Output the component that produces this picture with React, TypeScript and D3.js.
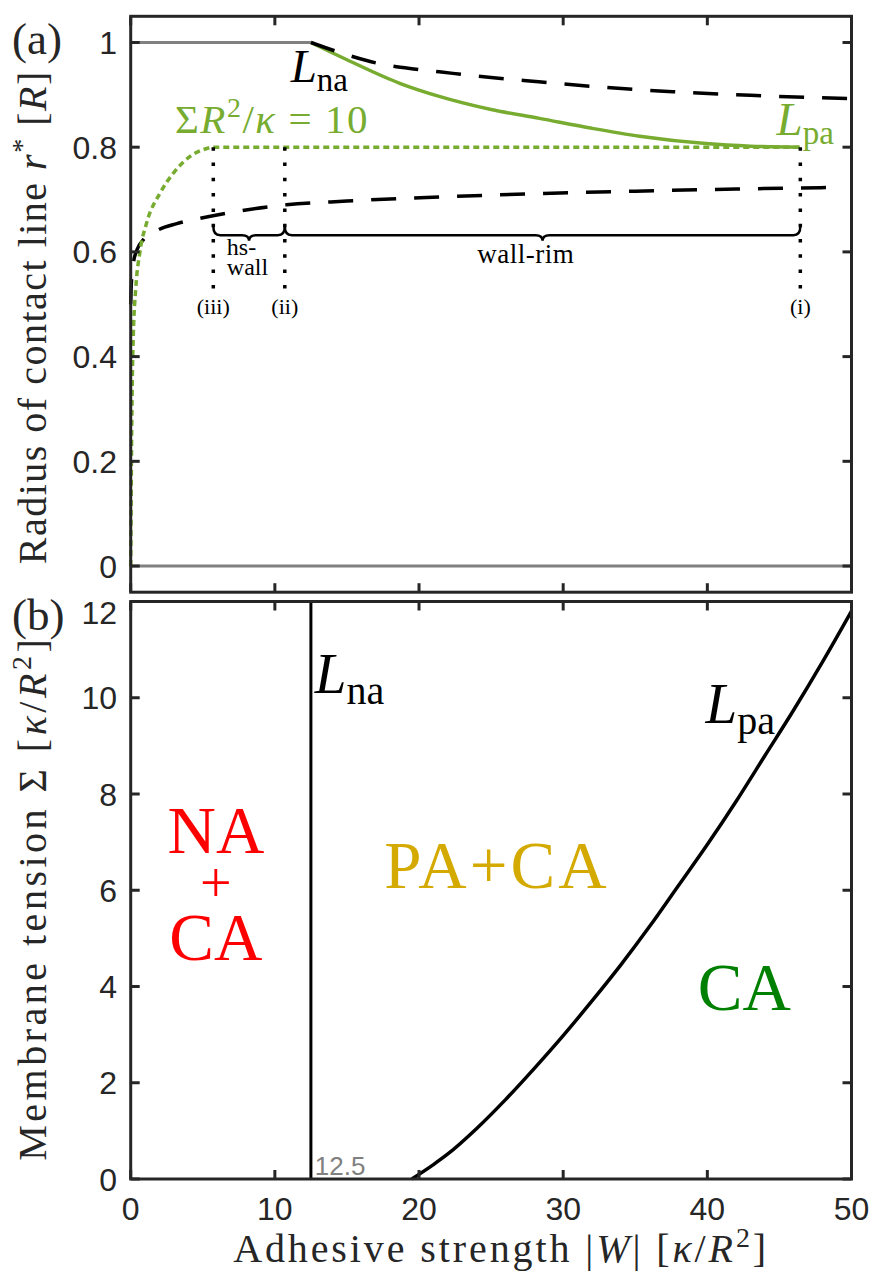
import React from "react";
import * as d3 from "d3";

// ---------- axis ticks ----------
const wTicks = [0, 10, 20, 30, 40, 50];
const wTickLabels = ["0", "10", "20", "30", "40", "50"];
const rTicks = [0, 0.2, 0.4, 0.6, 0.8, 1];
const rTickLabels = ["0", "0.2", "0.4", "0.6", "0.8", "1"];
const sTicks = [0, 2, 4, 6, 8, 10, 12];
const sTickLabels = ["0", "2", "4", "6", "8", "10", "12"];

// ---------- panel (a): radius of contact line ----------
const naBranchW = [0, 12.5];
const naBranchR = [1, 1];
const zeroBranchW = [0, 50];
const zeroBranchR = [0, 0];
const paBranchW = [12.5, 15, 18.66, 21.4, 25, 28.35, 32, 35.3, 39.9, 43, 46.4];
const paBranchR = [1.0, 0.967, 0.922, 0.897, 0.872, 0.855, 0.836, 0.821, 0.807, 0.802, 0.8];
const sigma10W = [0, 0.03, 0.07, 0.12, 0.18, 0.35, 0.64, 1.1, 2.03, 2.95, 4.1, 5.0, 5.73, 46.4];
const sigma10R = [0, 0.12, 0.26, 0.37, 0.44, 0.53, 0.6, 0.655, 0.712, 0.75, 0.782, 0.795, 0.8, 0.8];
const upperW = [12.5, 14.15, 15.3, 17, 19.8, 21.4, 25, 28.3, 33, 37.6, 43, 50];
const upperR = [1.0, 0.984, 0.974, 0.961, 0.949, 0.944, 0.933, 0.925, 0.914, 0.906, 0.899, 0.893];
const lowerW = [0, 0.03, 0.08, 0.18, 0.45, 0.87, 1.9, 3.2, 4.8, 7.5, 10.8, 15, 21.4, 28, 35, 42, 48.7];
const lowerR = [0.5, 0.53, 0.555, 0.578, 0.605, 0.623, 0.642, 0.654, 0.664, 0.678, 0.69, 0.697, 0.705, 0.711, 0.716, 0.72, 0.723];
const transitionW = [5.73, 10.69, 46.45];
const transitionLabels = ["(iii)", "(ii)", "(i)"];
const transitionTopR = 0.8;
const transitionBottomR = 0.53;
const braceR = 0.632;

// ---------- panel (b): phase diagram ----------
const lnaW = [12.5, 12.5];
const lnaS = [0, 12];
const lpaW = [19.5, 21, 22, 24, 26, 28, 30, 32, 34, 36, 38, 40, 42, 44, 46, 48, 50];
const lpaS = [0, 0.3, 0.52, 1.05, 1.65, 2.3, 2.98, 3.7, 4.45, 5.25, 6.1, 6.95, 7.85, 8.8, 9.75, 10.75, 11.8];

const serif = "Liberation Serif, DejaVu Serif, Noto Serif, serif";
const sans = "Liberation Sans, Arial, Helvetica, sans-serif";
const axisColor = "#262626";
const green = "#77AC30";
const gray = "#808080";

function brace(x1: number, x2: number, y: number) {
  const p = d3.path();
  const r = 7;
  const m = (x1 + x2) / 2;
  p.moveTo(x1, y - 9);
  p.quadraticCurveTo(x1, y, x1 + r, y);
  p.lineTo(m - r, y);
  p.quadraticCurveTo(m, y, m, y + 5.5);
  p.quadraticCurveTo(m, y, m + r, y);
  p.lineTo(x2 - r, y);
  p.quadraticCurveTo(x2, y, x2, y - 9);
  return p.toString();
}

export default function App() {
  const x = d3.scaleLinear().domain([0, 50]).range([130.7, 851.5]);
  const yA = d3.scaleLinear().domain([-0.05, 1.05]).range([592.2, 16.3]);
  const yB = d3.scaleLinear().domain([0, 12]).range([1179, 601.5]);

  const pathA = (xs: number[], ys: number[], curve: any = d3.curveMonotoneX) =>
    d3
      .line<number>()
      .x((i) => x(xs[i]))
      .y((i) => yA(ys[i]))
      .curve(curve)(xs.map((_, i) => i)) as string;
  const pathB = (xs: number[], ys: number[], curve: any = d3.curveMonotoneX) =>
    d3
      .line<number>()
      .x((i) => x(xs[i]))
      .y((i) => yB(ys[i]))
      .curve(curve)(xs.map((_, i) => i)) as string;

  const tick = 9;
  const [x0, x1] = x.range();
  const aTop = yA(1.05), aBot = yA(-0.05);
  const bTop = yB(12), bBot = yB(0);

  const frame = (top: number, bot: number, yTickPos: number[], key: string) => (
    <g key={key} stroke={axisColor} strokeWidth={3} fill="none">
      {wTicks.map((t) => (
        <g key={"xt" + t}>
          <line x1={x(t)} x2={x(t)} y1={bot} y2={bot - tick} />
          <line x1={x(t)} x2={x(t)} y1={top} y2={top + tick} />
        </g>
      ))}
      {yTickPos.map((p, i) => (
        <g key={"yt" + i}>
          <line x1={x0} x2={x0 + tick} y1={p} y2={p} />
          <line x1={x1} x2={x1 - tick} y1={p} y2={p} />
        </g>
      ))}
      <rect x={x0} y={top} width={x1 - x0} height={bot - top} strokeLinejoin="miter" />
    </g>
  );

  return (
    <svg
      width={874}
      height={1272}
      style={{ position: "absolute", left: 0, top: 0, background: "#fff" }}
    >
      <rect x={0} y={0} width={874} height={1272} fill="#fff" />

      {/* ---------- Panel (a) ---------- */}
      <path d={pathA(naBranchW, naBranchR, d3.curveLinear)} stroke={gray} strokeWidth={3} fill="none" />
      <path d={pathA(zeroBranchW, zeroBranchR, d3.curveLinear)} stroke={gray} strokeWidth={3} fill="none" />
      <path d={pathA(paBranchW, paBranchR)} stroke={green} strokeWidth={3.5} fill="none" />
      <path d={pathA(upperW, upperR)} stroke="#000" strokeWidth={3.5} fill="none" strokeDasharray="25 18" />
      <path d={pathA(lowerW, lowerR)} stroke="#000" strokeWidth={3.5} fill="none" strokeDasharray="25 18" />
      <path d={pathA(sigma10W, sigma10R)} stroke={green} strokeWidth={3.5} fill="none" strokeDasharray="6 4" />
      {transitionW.map((w, i) => (
        <g key={"tr" + i}>
          <line
            x1={x(w)}
            x2={x(w)}
            y1={yA(transitionTopR)}
            y2={yA(transitionBottomR)}
            stroke="#000"
            strokeWidth={3.5}
            strokeDasharray="3.5 11.8"
          />
          <text
            x={x(w)}
            y={yA(0.481)}
            textAnchor="middle"
            fontFamily={serif}
            fontSize={22}
            fill="#000"
          >
            {transitionLabels[i]}
          </text>
        </g>
      ))}
      <path d={brace(x(transitionW[0]), x(transitionW[1]), yA(braceR))} stroke="#000" strokeWidth={2.5} fill="none" />
      <path d={brace(x(transitionW[1]), x(transitionW[2]), yA(braceR))} stroke="#000" strokeWidth={2.5} fill="none" />
      <text x={x(6.67)} y={yA(0.594)} fontFamily={serif} fontSize={24} fill="#000">hs-</text>
      <text x={x(6.67)} y={yA(0.556)} fontFamily={serif} fontSize={24} fill="#000">wall</text>
      <text x={x(27.4)} y={yA(0.579)} textAnchor="middle" fontFamily={serif} fontSize={27} letterSpacing={0.5} fill="#000">wall-rim</text>

      <text x={x(11.1)} y={yA(0.925)} fontFamily={serif} fontSize={47} fill="#000">
        <tspan fontStyle="italic">L</tspan>
        <tspan fontSize={33} dy={9}>na</tspan>
      </text>
      <text x={x(44.8)} y={yA(0.823)} fontFamily={serif} fontSize={47} fill={green}>
        <tspan fontStyle="italic">L</tspan>
        <tspan fontSize={33} dy={9}>pa</tspan>
      </text>
      <text x={x(3.07)} y={yA(0.827)} fontFamily={serif} fontSize={41} letterSpacing={1.5} fill={green}>
        <tspan>Σ</tspan>
        <tspan fontStyle="italic">R</tspan>
        <tspan fontSize={28} dy={-16}>2</tspan>
        <tspan dy={16}>/</tspan>
        <tspan fontStyle="italic">κ</tspan>
        <tspan dx={12}>=</tspan>
        <tspan dx={12}>10</tspan>
      </text>

      {frame(aTop, aBot, rTicks.map((t) => yA(t)), "fa")}
      {rTicks.map((t, i) => (
        <text key={"rl" + i} x={117} y={yA(t)} dy="0.36em" textAnchor="end" fontFamily={sans} fontSize={32} fill={axisColor}>
          {rTickLabels[i]}
        </text>
      ))}

      {/* ---------- Panel (b) ---------- */}
      <path d={pathB(lnaW, lnaS, d3.curveLinear)} stroke="#000" strokeWidth={3} fill="none" />
      <path d={pathB(lpaW, lpaS)} stroke="#000" strokeWidth={3.5} fill="none" />
      <text x={x(12.77)} y={yB(0.083)} fontFamily={sans} fontSize={26} fill={gray}>12.5</text>

      <text x={x(12.77)} y={yB(10.1)} fontFamily={serif} fontSize={57} fill="#000">
        <tspan fontStyle="italic">L</tspan>
        <tspan fontSize={40} dy={11}>na</tspan>
      </text>
      <text x={x(39.87)} y={yB(9.47)} fontFamily={serif} fontSize={57} fill="#000">
        <tspan fontStyle="italic">L</tspan>
        <tspan fontSize={40} dy={11}>pa</tspan>
      </text>

      <g fontFamily={serif} fontSize={67} textAnchor="middle">
        <text x={x(5.91)} y={yB(6.77)} fill="#FF0000">NA</text>
        <text x={x(5.91)} y={yB(5.75)} fill="#FF0000" fontSize={56}>+</text>
        <text x={x(5.91)} y={yB(4.55)} fill="#FF0000">CA</text>
        <text x={x(25.4)} y={yB(6.05)} fill="#D4AA00" letterSpacing={3}>PA+CA</text>
        <text x={x(42.57)} y={yB(3.51)} fill="#008000">CA</text>
      </g>

      {frame(bTop, bBot, sTicks.map((t) => yB(t)), "fb")}
      {sTicks.map((t, i) => (
        <text
          key={"sl" + i}
          x={117}
          y={yB(t) + (t === 12 ? 11 : 0)}
          dy="0.36em"
          textAnchor="end"
          fontFamily={sans}
          fontSize={32}
          fill={axisColor}
        >
          {sTickLabels[i]}
        </text>
      ))}
      {wTicks.map((t, i) => (
        <text key={"wl" + i} x={x(t)} y={1220} textAnchor="middle" fontFamily={sans} fontSize={32} fill={axisColor}>
          {wTickLabels[i]}
        </text>
      ))}

      {/* ---------- axis labels ---------- */}
      <text x={x(25) + 10} y={1262} textAnchor="middle" fontFamily={serif} fontSize={40} letterSpacing={2.9} fill={axisColor}>
        Adhesive strength |<tspan fontStyle="italic">W</tspan>| [<tspan fontStyle="italic">κ</tspan>/<tspan fontStyle="italic">R</tspan>
        <tspan fontSize={28} dy={-15}>2</tspan>
        <tspan dy={15}>]</tspan>
      </text>
      <text
        transform={`translate(46, ${(aTop + aBot) / 2 + 13}) rotate(-90)`}
        textAnchor="middle"
        fontFamily={serif}
        fontSize={40}
        letterSpacing={1.5}
        fill={axisColor}
      >
        Radius of contact line <tspan fontStyle="italic">r</tspan>
        <tspan fontSize={28} dy={-15}>*</tspan>
        <tspan dy={15}> [</tspan>
        <tspan fontStyle="italic">R</tspan>]
      </text>
      <text
        transform={`translate(46, ${(bTop + bBot) / 2 + 8}) rotate(-90)`}
        textAnchor="middle"
        fontFamily={serif}
        fontSize={40}
        letterSpacing={3.5}
        fill={axisColor}
      >
        Membrane tension Σ [<tspan fontStyle="italic">κ</tspan>/<tspan fontStyle="italic">R</tspan>
        <tspan fontSize={28} dy={-15}>2</tspan>
        <tspan dy={15}>]</tspan>
      </text>

      <text x={12} y={54} fontFamily={serif} fontSize={45} fill={axisColor}>(a)</text>
      <text x={12} y={630} fontFamily={serif} fontSize={45} fill={axisColor}>(b)</text>
    </svg>
  );
}
